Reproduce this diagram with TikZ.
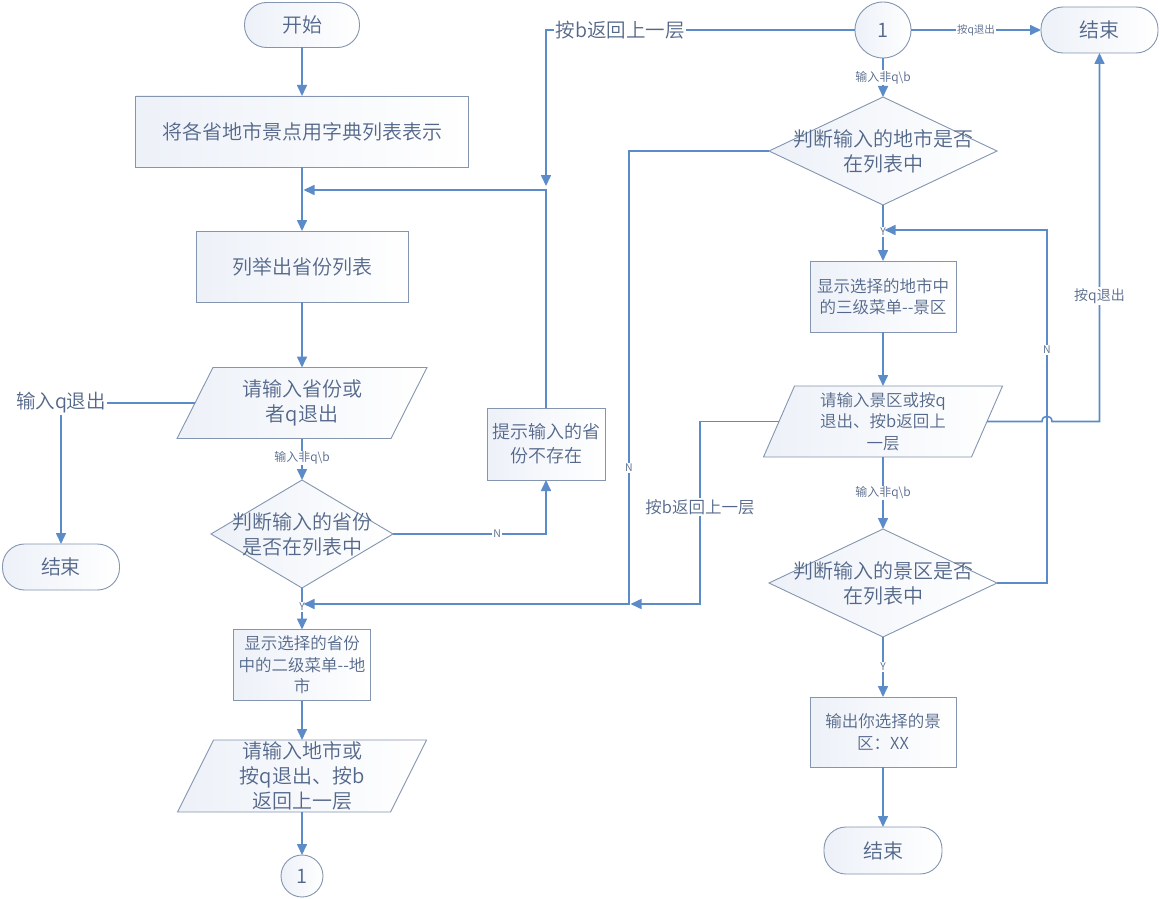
\documentclass[tikz,border=0pt]{standalone}
\usepackage{fontspec}
\setmainfont{Noto Sans CJK SC}[UprightFont=* DemiLight]
\usetikzlibrary{arrows.meta,shapes.geometric,calc}
\definecolor{linec}{HTML}{5B8CC9}
\definecolor{bordc}{HTML}{8495B0}
\definecolor{txtc}{HTML}{53678A}
\definecolor{fillc}{HTML}{EDF1F8}
\pgfdeclarelayer{bg}
\pgfsetlayers{bg,main}
\newcommand\drawpara[2]{%
  \path[draw=bordc, line width=0.9pt, left color=fillc, right color=white]
    ($(#1.north west)+(#2,0)$) -- ($(#1.north east)+(#2,0)$) --
    ($(#1.south east)+(-#2,0)$) -- ($(#1.south west)+(-#2,0)$) -- cycle;}
\begin{document}
\begin{tikzpicture}[x=1pt,y=-1pt,
  shp/.style={draw=bordc, line width=0.9pt, left color=fillc, right color=white, inner sep=0pt, outer sep=0pt},
  proc/.style={shp, rectangle},
  term/.style={shp, rectangle, rounded corners=22pt},
  iobox/.style={rectangle, inner sep=0pt, outer sep=0pt},
  dec/.style={shp, diamond},
  cnc/.style={shp, circle},
  tx/.style={text=txtc, align=center, font=\fontsize{20}{25}\selectfont},
  txm/.style={text=txtc, align=center, font=\fontsize{18}{24}\selectfont},
  txs/.style={text=txtc, align=center, font=\fontsize{16.5}{21.5}\selectfont},
  arr/.style={draw=linec, line width=1.6pt, -{Triangle[length=11pt,width=10pt]}},
  lab/.style={fill=white, text=txtc, inner sep=1.5pt, font=\fontsize{19.5}{24}\selectfont},
  labm/.style={fill=white, text=txtc, inner sep=1.5pt, font=\fontsize{16.5}{20}\selectfont},
  labq/.style={fill=white, text=txtc, inner sep=1.5pt, font=\fontsize{14}{16}\selectfont},
  labs/.style={fill=white, text=txtc, inner sep=1pt, font=\fontsize{12}{14}\selectfont},
  labt/.style={fill=white, text=txtc, inner sep=0.8pt, font=\fontsize{10.5}{12}\selectfont},
]
\useasboundingbox (0,0) rectangle (1160,899);

% ---------------- left column ----------------
\node[term, tx, minimum width=115, minimum height=45] (start) at (302,25) {开始};
\node[proc, tx, minimum width=333, minimum height=71] (b1) at (302,131.5) {将各省地市景点用字典列表表示};
\node[proc, tx, minimum width=212, minimum height=71] (b2) at (302,266.5) {列举出省份列表};
\node[iobox, minimum width=214, minimum height=71,
      label={[tx]center:{请输入省份或\\者q退出}}] (p1) at (302,403) {};
\node[term, tx, minimum width=117, minimum height=46] (end1) at (61,567) {结束};
\node[dec, minimum width=182, minimum height=108,
      label={[tx]center:{判断输入的省份\\是否在列表中}}] (d1) at (302,534) {};
\node[proc, txm, minimum width=118, minimum height=72] (tip) at (546,444) {提示输入的省\\份不存在};
\node[proc, txs, minimum width=137, minimum height=71] (b3) at (302,665) {显示选择的省份\\中的二级菜单{-}{-}地\\市};
\node[iobox, minimum width=213, minimum height=72,
      label={[tx]center:{请输入地市或\\按q退出、按b\\返回上一层}}] (p2) at (302,776) {};
\node[cnc, tx, minimum size=42] (c2) at (302,876) {1};

% ---------------- right column ----------------
\node[cnc, tx, minimum size=56] (c1) at (883,30) {1};
\node[term, tx, minimum width=117, minimum height=46] (endR) at (1099.5,30) {结束};
\node[dec, minimum width=228, minimum height=108,
      label={[tx]center:{判断输入的地市是否\\在列表中}}] (d2) at (883,151) {};
\node[proc, txs, minimum width=146, minimum height=71] (b4) at (883,296.5) {显示选择的地市中\\的三级菜单{-}{-}景区};
\node[iobox, minimum width=208, minimum height=71,
      label={[txs]center:{请输入景区或按q\\退出、按b返回上\\一层}}] (p3) at (883,421.5) {};
\node[dec, minimum width=228, minimum height=108,
      label={[tx]center:{判断输入的景区是否\\在列表中}}] (d3) at (883,583) {};
\node[proc, txs, minimum width=146, minimum height=70] (b5) at (883,732) {输出你选择的景\\区：XX};
\node[term, tx, minimum width=118, minimum height=47] (end3) at (883,850.5) {结束};

% ---------------- background: page and parallelograms ----------------
\begin{pgfonlayer}{bg}
  \fill[white] (0,0) rectangle (1160,899);
  \drawpara{p1}{18}
  \drawpara{p2}{18}
  \drawpara{p3}{15.5}
\end{pgfonlayer}

% ---------------- junction points ----------------
\coordinate (jL) at (303.5,190);
\coordinate (j0) at (546,186);
\coordinate (jY) at (303.5,604);
\coordinate (k1) at (629,604);
\coordinate (k2) at (630.5,604);
\coordinate (k3) at (700,604);
\coordinate (jR) at (884.5,230);
\coordinate (k4) at (1047,230);
\coordinate (h1) at (1042,421.5);
\coordinate (h2) at (1052,421.5);

% ---------------- connectors: left ----------------
\draw[arr] (start) -- (b1);
\draw[arr] (b1) -- (b2);
\draw[arr] (b2) -- (p1);
\draw[arr] (p1.west) -| node[lab,pos=0.5]{输入q退出} (end1.north);
\draw[arr] (p1) -- node[labs,pos=0.47]{输入非q\textbackslash b} (d1);
\draw[arr] (d1.east) -| node[labt,pos=0.34]{N} (tip.south);
\draw[arr] (tip.north) |- (jL);
\draw[arr] (c1.west) -| node[lab,pos=0.38]{按b返回上一层} (j0);
\draw[arr] (d1) -- node[labt,pos=0.46]{Y} (b3);
\draw[arr] (b3) -- (p2);
\draw[arr] (p2) -- (c2);

% ---------------- connectors: right ----------------
\draw[arr] (c1) -- node[labt,pos=0.5]{按q退出} (endR);
\draw[arr] (c1) -- node[labs,pos=0.5]{输入非q\textbackslash b} (d2);
\draw[arr] (d2.west) -| node[labt,pos=0.85]{N} (k1) -- (jY);
\draw[arr] (d2) -- node[labt,pos=0.48]{Y} (b4);
\draw[arr] (b4) -- (p3);
\draw[arr] (p3.west) -| node[labm,pos=0.735]{按b返回上一层} (k3) -- (k2);
\draw[arr] (p3.east) -- (h1) .. controls +(0,-7) and +(0,-7) .. (h2) -| node[labq,pos=0.67]{按q退出} (endR.south);
\draw[arr] (p3) -- node[labs,pos=0.5]{输入非q\textbackslash b} (d3);
\draw[arr] (d3.east) -| node[labt,pos=0.83]{N} (k4) -- (jR);
\draw[arr] (d3) -- node[labt,pos=0.5]{Y} (b5);
\draw[arr] (b5) -- (end3);
\end{tikzpicture}
\end{document}
